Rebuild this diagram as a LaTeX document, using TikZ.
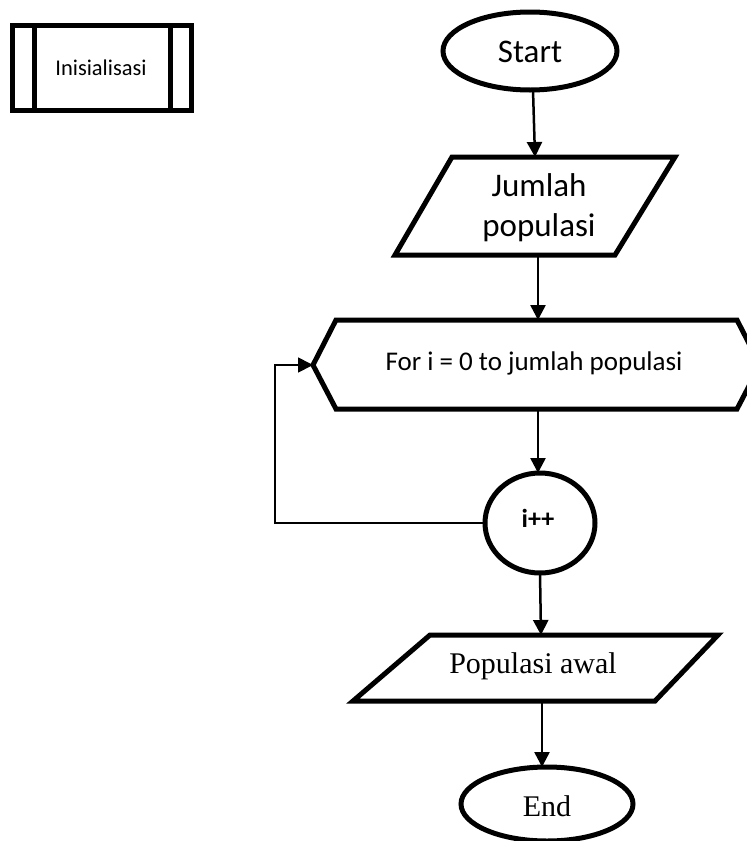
\documentclass[tikz,border=0pt]{standalone}
\usepackage{fontspec}
\setmainfont{Carlito}
\newfontfamily\timesf{Liberation Serif}
\usetikzlibrary{arrows.meta}
\begin{document}
\begin{tikzpicture}[x=1pt,y=-1pt,
  shp/.style={draw=black,line width=5pt,line join=miter},
  conn/.style={line width=2.5pt,-{Triangle[width=15pt,length=15pt]}},
  loopl/.style={line width=1.8pt,-{Triangle[width=15pt,length=15pt]}},
  lbl/.style={inner sep=0pt,align=center}]
\useasboundingbox (0,0) rectangle (747,841);
% Inisialisasi predefined process
\draw[shp] (12.5,25.5) rectangle (191.5,110.5);
\draw[shp] (34,25.5) -- (34,110.5);
\draw[shp] (170.5,25.5) -- (170.5,110.5);
\node[lbl,font=\fontsize{22.5}{26}\selectfont] (init) at (101,68) {Inisialisasi};
% Start
\draw[shp] (530,51) ellipse [x radius=87,y radius=39];
\node[lbl,font=\fontsize{33}{36}\selectfont] (start) at (530,52) {Start};
\coordinate (startb) at (533,90);
% Jumlah populasi
\draw[shp] (452,157) -- (675,157) -- (615,255) -- (395,255) -- cycle;
\node[lbl,font=\fontsize{33}{40}\selectfont] (jumlah) at (539,208) {Jumlah\\populasi};
\coordinate (jt) at (535,157);
\coordinate (jb) at (538,255);
% For hexagon
\draw[shp] (313,365) -- (336,320) -- (737,320) -- (760,365) -- (737,409) -- (336,409) -- cycle;
\node[lbl,font=\fontsize{27}{30}\selectfont] (for) at (534,363) {For i = 0 to jumlah populasi};
\coordinate (ft) at (538,320);
\coordinate (fb) at (538,409);
\coordinate (fl) at (313,365);
% i++ circle
\draw[shp] (540,523) ellipse [x radius=55,y radius=50];
\node[lbl,font=\bfseries\fontsize{26}{30}\selectfont] (inc) at (538,518) {i++};
\coordinate (ct) at (538,473);
\coordinate (cl) at (485,523);
\coordinate (cb) at (540,573);
\coordinate (lc) at (275,523);
\coordinate (lu) at (275,365);
% Populasi awal
\draw[shp] (430,635) -- (718,635) -- (655,701) -- (353,701) -- cycle;
\node[lbl,font=\timesf\fontsize{30}{33}\selectfont] (pop) at (533,666) {Populasi awal};
\coordinate (pt) at (541,635);
\coordinate (pb) at (542,701);
% End
\draw[shp] (547,804) ellipse [x radius=86,y radius=37];
\node[lbl,font=\timesf\fontsize{30}{33}\selectfont] (end) at (547,806) {End};
\coordinate (et) at (542,767);
% connectors
\draw[conn] (startb) -- (jt);
\draw[conn] (jb) -- (ft);
\draw[conn] (fb) -- (ct);
\draw[conn] (cb) -- (pt);
\draw[conn] (pb) -- (et);
\draw[loopl] (cl) -- (lc) -- (lu) -- (fl);
\end{tikzpicture}
\end{document}
